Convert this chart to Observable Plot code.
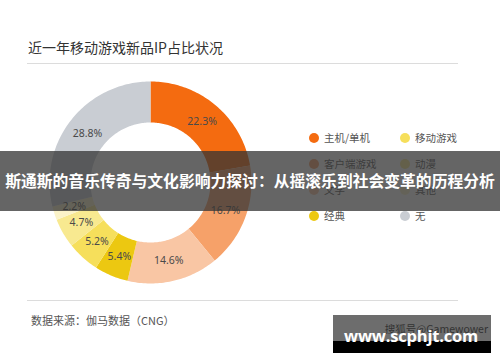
<!DOCTYPE html>
<html>
<head>
<meta charset="utf-8">
<script src="https://cdn.jsdelivr.net/npm/d3@7"></script>
<script src="https://cdn.jsdelivr.net/npm/@observablehq/plot@0.6"></script>
<style>
  html, body { margin: 0; padding: 0; background: #fff; }
  #chart { position: relative; width: 500px; height: 362px; overflow: hidden; background: #fff;
    font-family: "Noto Sans CJK SC", "Noto Sans", sans-serif; }
  .abs { position: absolute; white-space: nowrap; }
  #title { left: 28px; top: 38px; font-size: 14px; line-height: 18px; color: #333; }
  .rule { position: absolute; left: 27px; width: 431px; height: 1px; background: #dcdcdc; }
  #donut { position: absolute; left: 40px; top: 72px; }
  .leg { position: absolute; font-size: 10.5px; line-height: 14px; color: #555; white-space: nowrap; }
  .leg i { position: absolute; left: -15px; top: 2px; width: 10px; height: 10px; border-radius: 50%; }
  #banner { position: absolute; left: 0px; top: 151px; width: 500px; height: 60px; background: rgba(52,52,52,0.76);
    color: #fff; font-weight: bold; font-size: 15.8px; line-height: 60px; text-align: center; white-space: nowrap; }
  #footer { left: 31px; top: 312px; font-size: 11px; line-height: 16px; color: #555; }
  #wm { position: absolute; left: 333px; top: 315px; width: 158px; height: 38px; background: #000; }
  #wm .top { position: absolute; left: 0; top: 0; width: 158px; height: 26px; background: #6d6d6d; }
  #wm .src { position: absolute; right: 3px; top: 7px; font-size: 10.5px; line-height: 14px; color: #333; white-space: nowrap; }
  #wm .url { position: absolute; left: 11px; top: 10px; font-family: "Open Sans", sans-serif; font-weight: 700;
    font-size: 16.5px; line-height: 22px; color: #fff; white-space: nowrap; letter-spacing: -0.2px; }
</style>
</head>
<body>
<div id="chart"></div>
<script>
// ---- data ----
const title = "近一年移动游戏新品IP占比状况";
const categories = ["主机/单机", "客户端游戏", "文学", "经典", "移动游戏", "动漫", "其他", "无"];
const values = [22.3, 16.7, 14.6, 5.4, 5.2, 4.7, 2.2, 28.8];
const colors = ["#f46b10", "#f6a169", "#f9c6a4", "#ecc811", "#f6df5b", "#f8e990", "#fbf3c9", "#c9cdd3"];
const legendOrder = ["主机/单机", "移动游戏", "客户端游戏", "动漫", "文学", "其他", "经典", "无"];
const source = "数据来源：伽马数据（CNG）";
const bannerText = "斯通斯的音乐传奇与文化影响力探讨：从摇滚乐到社会变革的历程分析";
const watermark = "www.scphjt.com";
const watermarkSrc = "搜狐号@Gamewower";

// ---- layout ----
const chart = document.getElementById("chart");
const el = (tag, cls, text, parent = chart) => {
  const e = document.createElement(tag);
  if (cls) e.className = cls;
  if (text != null) e.textContent = text;
  parent.appendChild(e);
  return e;
};

const t = el("div", "abs", title); t.id = "title";
el("div", "rule").style.top = "63px";
el("div", "rule").style.top = "300px";

// ---- donut via Plot.geo with identity projection ----
const R = 101, r0 = 60, rLabel = 80, half = 110;
const pie = d3.pie().sort(null).value(d => d.value)(categories.map((c, i) => ({name: c, value: values[i], color: colors[i]})));
const pt = (a, rad) => [rad * Math.sin(a), -rad * Math.cos(a)];
const slices = pie.map(p => {
  const n = Math.max(2, Math.ceil((p.endAngle - p.startAngle) / 0.02));
  const outer = d3.range(n + 1).map(k => pt(p.startAngle + (p.endAngle - p.startAngle) * k / n, R));
  const inner = d3.range(n + 1).map(k => pt(p.endAngle - (p.endAngle - p.startAngle) * k / n, r0));
  const ring = outer.concat(inner); ring.push(outer[0]);
  return {type: "Feature", properties: p.data, geometry: {type: "Polygon", coordinates: [ring]}};
});
const labels = pie.map(p => {
  const m = (p.startAngle + p.endAngle) / 2;
  const [x, y] = pt(m, rLabel);
  return {x, y, text: p.data.value.toFixed(1) + "%"};
});
const frame = {type: "Polygon", coordinates: [[[-half, -half], [half, -half], [half, half], [-half, half], [-half, -half]]]};

const donut = Plot.plot({
  width: 220, height: 220, margin: 0,
  projection: {type: "identity", domain: frame},
  marks: [
    Plot.geo(slices, {fill: d => d.properties.color, stroke: "none"}),
    Plot.text(labels, {x: "x", y: "y", text: "text", fill: "#4a4a4a", fontSize: 10.5,
      fontFamily: "Noto Sans, sans-serif"})
  ]
});
donut.id = "donut";
chart.appendChild(donut);

// ---- legend ----
legendOrder.forEach((name, i) => {
  const col = i % 2, row = Math.floor(i / 2);
  const item = el("div", "leg");
  item.style.left = (col === 0 ? 324 : 415) + "px";
  item.style.top = (131 + row * 26) + "px";
  const dot = el("i", null, null, item);
  dot.style.background = colors[categories.indexOf(name)];
  el("span", null, name, item);
});

// ---- footer ----
const f = el("div", "abs", source); f.id = "footer";

// ---- overlay banner ----
const b = el("div", null, bannerText); b.id = "banner";

// ---- watermark ----
const wm = el("div"); wm.id = "wm";
el("div", "top", null, wm);
el("div", "src", watermarkSrc, wm);
el("div", "url", watermark, wm);
</script>
</body>
</html>
